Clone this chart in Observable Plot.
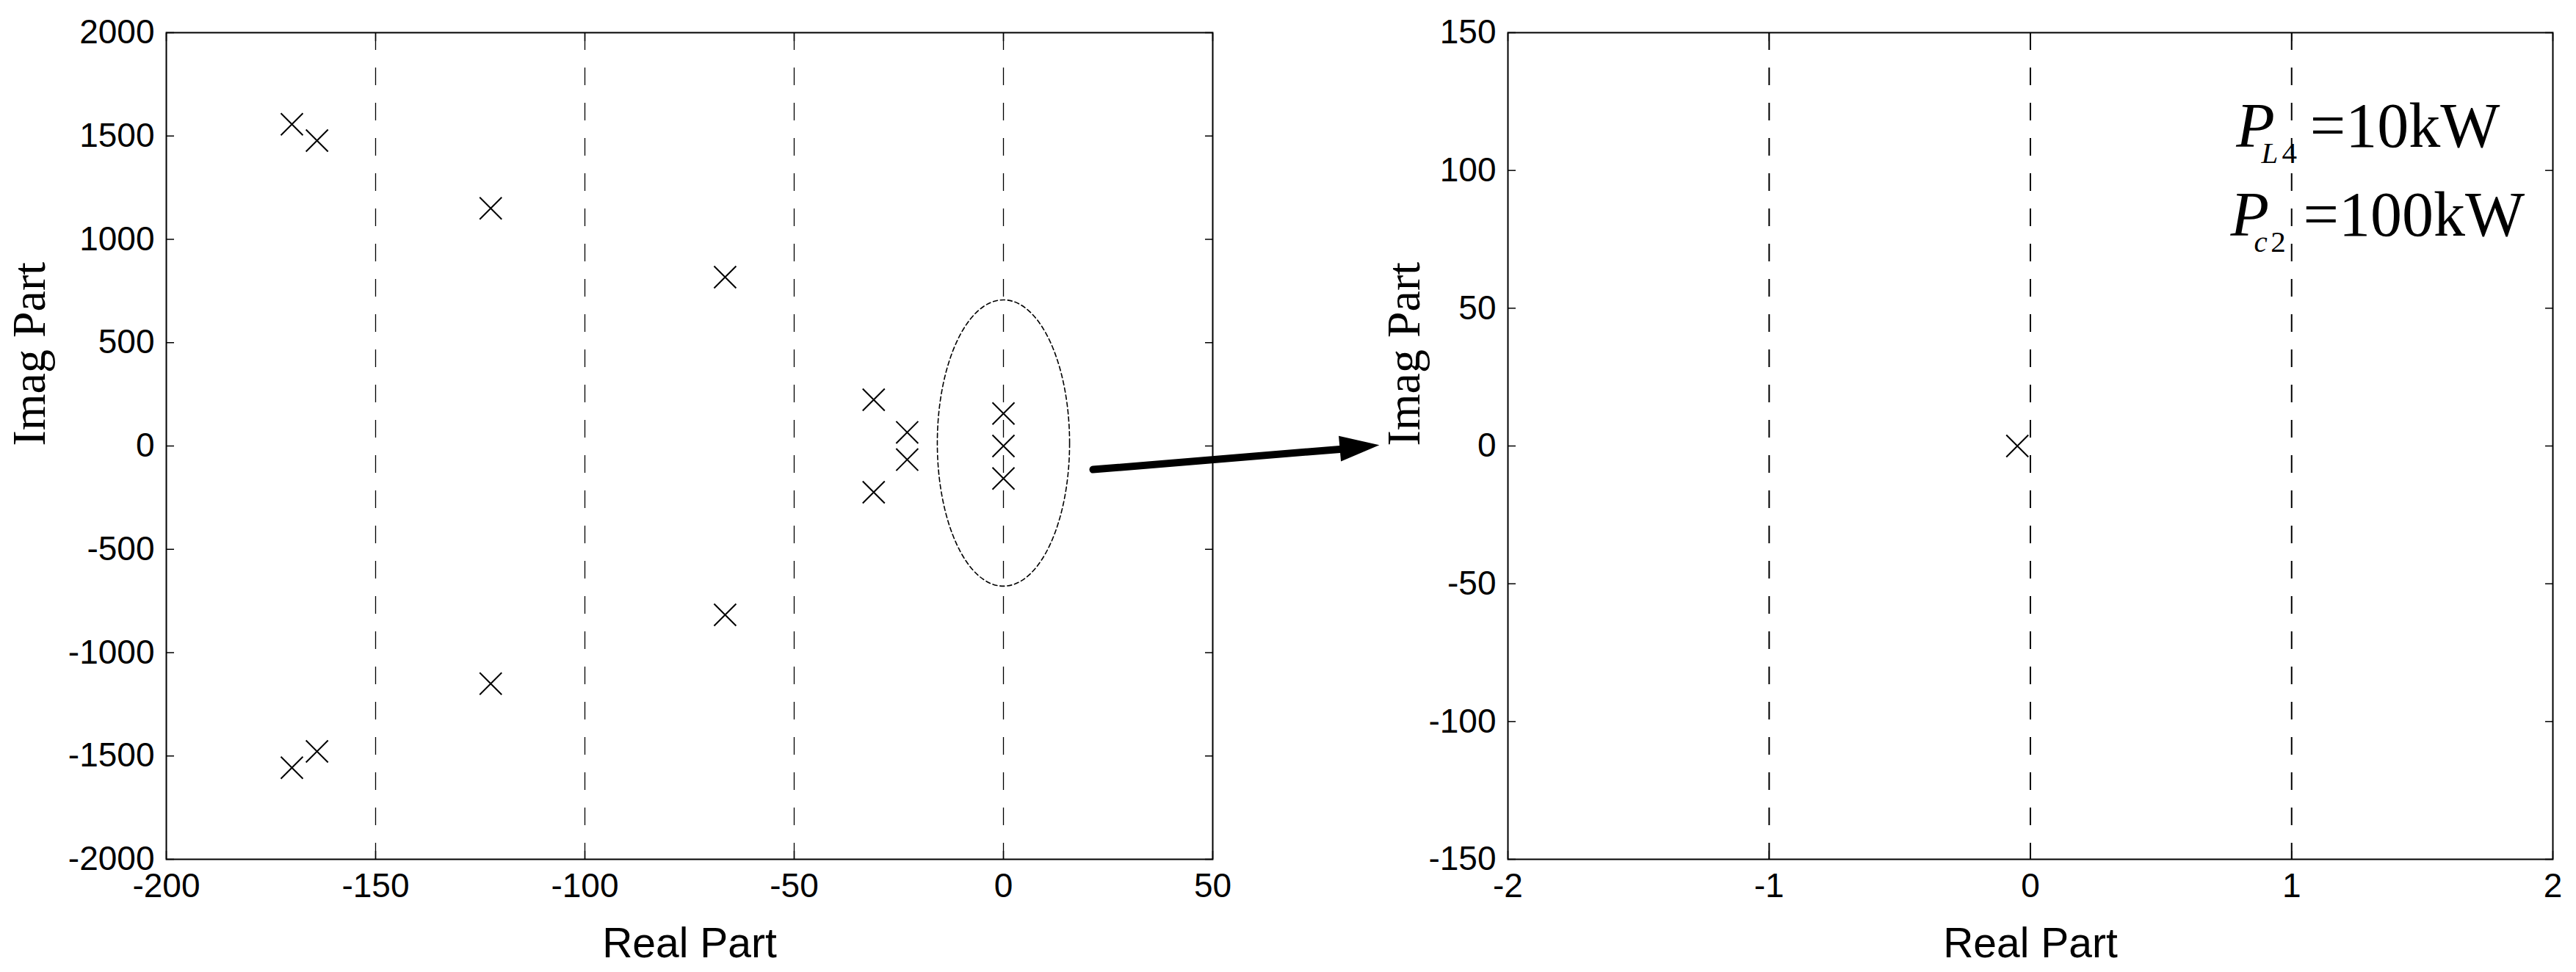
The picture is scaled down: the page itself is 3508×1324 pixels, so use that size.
<!DOCTYPE html>
<html><head><meta charset="utf-8">
<script src="https://cdn.jsdelivr.net/npm/d3@7"></script>
<script src="https://cdn.jsdelivr.net/npm/@observablehq/plot@0.6"></script>
<style>
html,body{margin:0;padding:0;background:#fff;}
#fig{position:relative;width:3508px;height:1324px;overflow:hidden;background:#fff;}
#fig > svg{position:absolute;top:0;}
</style></head><body><div id="fig"></div>
<script>
// ---- data: left pole map ----
const leftReal = [-170, -170, -164, -164, -122.5, -122.5, -66.5, -66.5, -31, -31, -23, -23, 0, 0, 0];
const leftImag = [1557, -1557, 1478, -1478, 1150, -1150, 817, -817, 224, -224, 66, -66, 157, 0, -157];
const leftXTicks = [-200, -150, -100, -50, 0, 50];
const leftYTicks = [-2000, -1500, -1000, -500, 0, 500, 1000, 1500, 2000];
const leftGrid = [-150, -100, -50, 0];
// ---- data: right (zoomed) pole map ----
const rightReal = [-0.05];
const rightImag = [0];
const rightXTicks = [-2, -1, 0, 1, 2];
const rightYTicks = [-150, -100, -50, 0, 50, 100, 150];
const rightGrid = [-1, 0, 1];
// ---- annotation: dashed ellipse extremes and arrow (left-plot data units) ----
const ellipseX = [0, 15.8, 0, -15.8];
const ellipseY = [707, 14, -678, 14];
const arrowFrom = [21.4, -114];
const arrowShaftEnd = [82, -13];
const arrowTip = [89.8, 4];

const leftPts = leftReal.map((x, i) => ({x, y: leftImag[i]}));
const rightPts = rightReal.map((x, i) => ({x, y: rightImag[i]}));
const ellipsePts = ellipseX.map((x, i) => ({x, y: ellipseY[i]}));
const fmt = d => String(d);

const SANS = "'Liberation Sans', Arial, Helvetica, sans-serif";
const SERIF = "'Liberation Serif', 'Times New Roman', serif";

const headShape = {
  draw(context, l) {
    context.moveTo(-17.5, 0);
    context.lineTo(0, -l);
    context.lineTo(17.5, 0);
    context.closePath();
  }
};

function axes(xt, yt, grid, gridW) {
  return [
    Plot.ruleX(grid, {stroke: "black", strokeWidth: gridW, strokeDasharray: "24,24"}),
    Plot.axisX(xt, {anchor: "bottom", tickSize: -11, tickPadding: 30, tickFormat: fmt, label: null, strokeWidth: 1.5}),
    Plot.axisX(xt, {anchor: "top", tickSize: -11, tickFormat: () => "", label: null, strokeWidth: 1.5}),
    Plot.axisY(yt, {anchor: "left", tickSize: -11, tickPadding: 27, tickFormat: fmt, label: null, strokeWidth: 1.5}),
    Plot.axisY(yt, {anchor: "right", tickSize: -11, tickFormat: () => "", label: null, strokeWidth: 1.5}),
    Plot.frame({stroke: "black", strokeWidth: 2})
  ];
}

function labels(imagDx) {
  return [
    Plot.text(["Imag Part"], {text: d => d, frameAnchor: "left", dx: imagDx, rotate: -90, fontFamily: SERIF, fontSize: 64, fill: "black"}),
    Plot.text(["Real Part"], {text: d => d, frameAnchor: "bottom", dy: 133, lineAnchor: "bottom", fontFamily: SANS, fontSize: 57, fill: "black"})
  ];
}

const style = {fontFamily: SANS, fontSize: "46px", background: "transparent", overflow: "visible", color: "black"};

const left = Plot.plot({
  width: 1760, height: 1324,
  marginLeft: 226, marginRight: 109, marginTop: 44, marginBottom: 154,
  x: {domain: [-200, 50]},
  y: {domain: [-2000, 2000]},
  style,
  marks: [
    ...axes(leftXTicks, leftYTicks, leftGrid, 1.3),
    Plot.dot(leftPts, {x: "x", y: "y", symbol: "times", r: 13.7, stroke: "black", strokeWidth: 2}),
    Plot.line(ellipsePts, {x: "x", y: "y", curve: "cardinal-closed", tension: -0.657, stroke: "black", strokeWidth: 1.6, strokeDasharray: "6,4"}),
    Plot.link([0], {x1: () => arrowFrom[0], y1: () => arrowFrom[1], x2: () => arrowShaftEnd[0], y2: () => arrowShaftEnd[1], stroke: "black", strokeWidth: 10, strokeLinecap: "round"}),
    Plot.vector([0], {x: () => arrowTip[0], y: () => arrowTip[1], length: 54, rotate: 85, anchor: "end", shape: headShape, fill: "black", stroke: "none"}),
    ...labels(-186)
  ]
});
left.style.left = "0px";

// annotation text pieces (right-plot data units), letter spacing in px
const annot = [
  {t: "P", x: 0.788, y: 108.6, g: "main-i", ls: 0},
  {t: "L", x: 0.884, y: 102.8, g: "sub-i", ls: 0},
  {t: "4", x: 0.963, y: 102.8, g: "sub", ls: 0},
  {t: "=10kW", x: 1.070, y: 108.6, g: "main", ls: -3},
  {t: "P", x: 0.766, y: 76.3, g: "main-i", ls: 0},
  {t: "c", x: 0.856, y: 70.5, g: "sub-i", ls: 0},
  {t: "2", x: 0.920, y: 70.5, g: "sub", ls: 0},
  {t: "=100kW", x: 1.044, y: 76.3, g: "main", ls: -1}
];
const annotMark = (g, size, italic) => Plot.text(annot.filter(d => d.g === g), {
  x: "x", y: "y", text: "t", textAnchor: "start", lineAnchor: "bottom",
  fontFamily: SERIF, fontSize: size, fontStyle: italic ? "italic" : "normal", fill: "black",
  ariaLabel: "annot-" + g
});

const right = Plot.plot({
  width: 1748, height: 1324,
  marginLeft: 293, marginRight: 32, marginTop: 44, marginBottom: 154,
  x: {domain: [-2, 2]},
  y: {domain: [-150, 150]},
  style,
  marks: [
    ...axes(rightXTicks, rightYTicks, rightGrid, 2),
    Plot.dot(rightPts, {x: "x", y: "y", symbol: "times", r: 13.7, stroke: "black", strokeWidth: 2}),
    annotMark("main-i", 86, true),
    annotMark("main", 86, false),
    annotMark("sub-i", 41, true),
    annotMark("sub", 41, false),
    ...labels(-141)
  ]
});
right.style.left = "1760px";

// apply letter spacing to the main annotation strings
const mainItems = annot.filter(d => d.g === "main");
right.querySelectorAll('g[aria-label="annot-main"] text').forEach((el, i) => {
  if (mainItems[i]) el.setAttribute("letter-spacing", mainItems[i].ls);
});

const fig = document.getElementById("fig");
fig.appendChild(right);
fig.appendChild(left);
</script></body></html>
